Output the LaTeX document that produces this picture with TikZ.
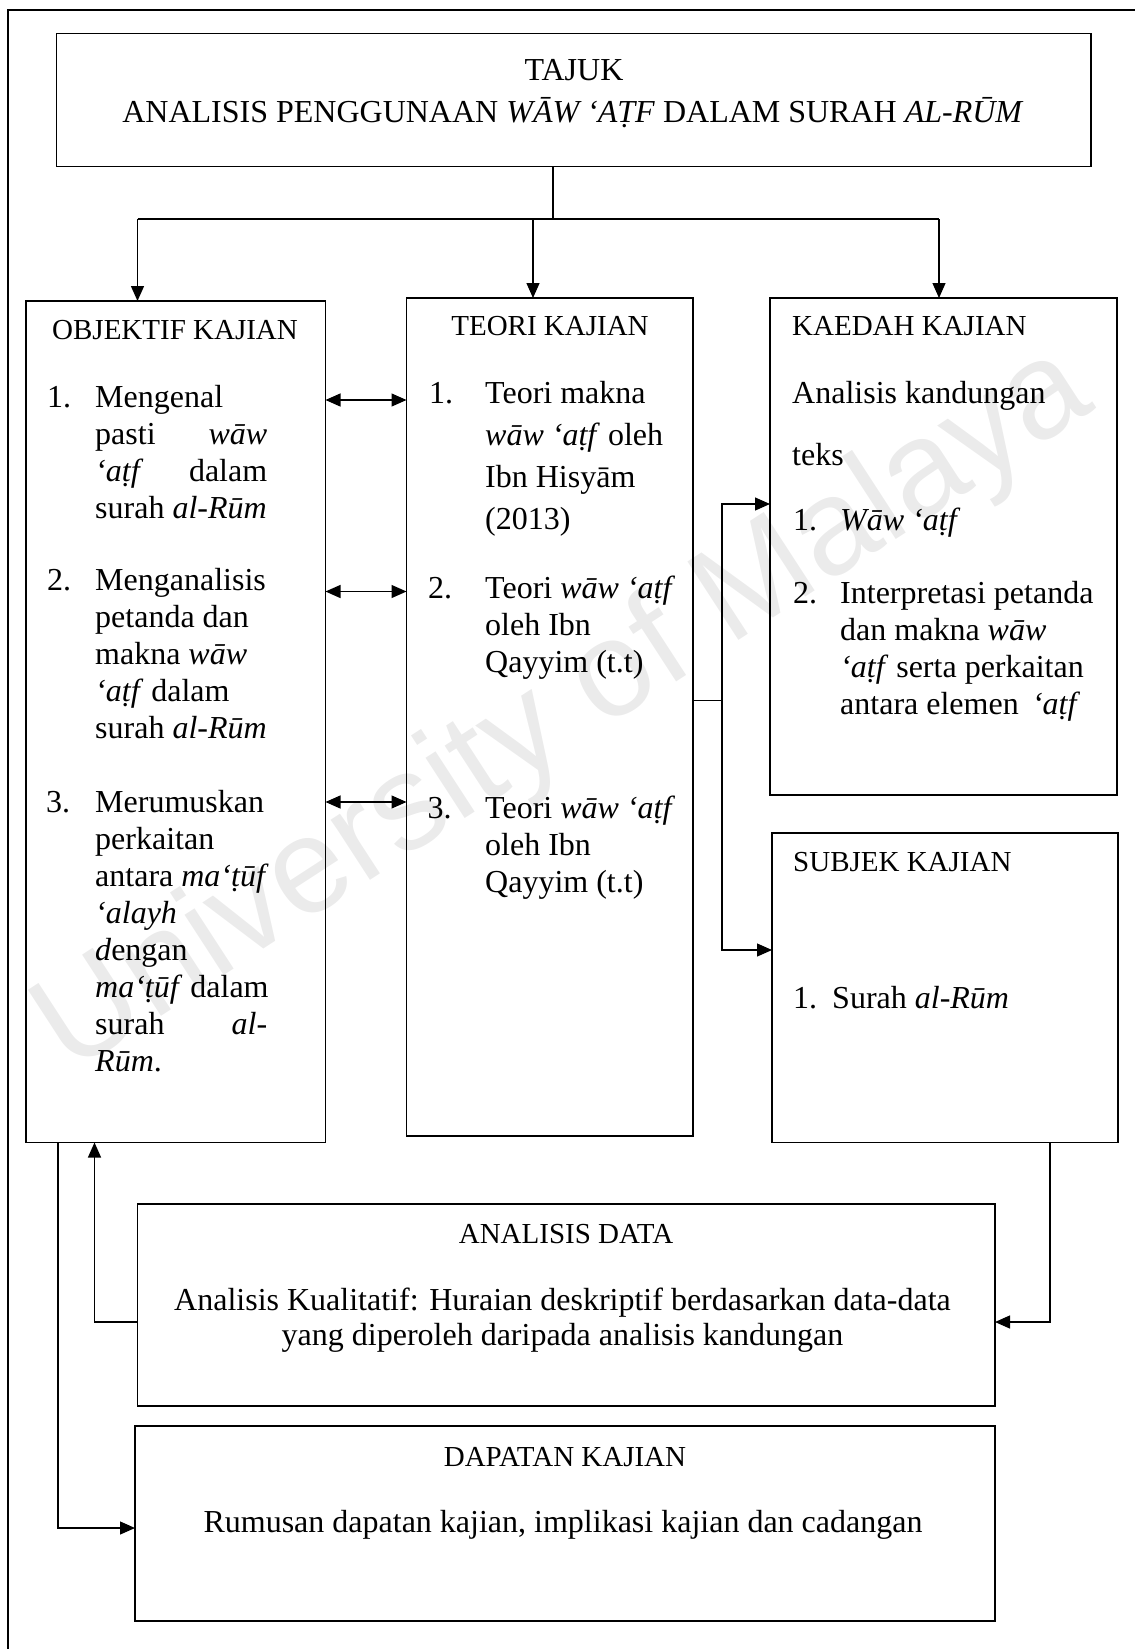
\documentclass[tikz,border=0pt]{standalone}
\usepackage{fontspec}
\setmainfont{Liberation Serif}
\newfontfamily\wmfont{Liberation Sans}
\usetikzlibrary{arrows.meta}
\newcommand\blk[2]{\parbox[t]{300pt}{\fontsize{32}{#1}\selectfont\raggedright #2\par}}
\newcommand\jl[1]{\makebox[172pt][s]{#1}}
\begin{document}
\begin{tikzpicture}[x=1pt,y=-1pt,
  box/.style={draw, line width=1.6pt, inner sep=0pt, outer sep=0pt, anchor=north west},
  frame/.style={line width=2pt},
  conn/.style={line width=1.3pt},
  arr/.style={conn, -{Triangle[length=15pt,width=13pt]}},
  darr/.style={conn, {Triangle[length=15pt,width=13pt]}-{Triangle[length=15pt,width=13pt]}},
  hd/.style={font=\fontsize{29}{35}\selectfont, inner sep=0pt, anchor=base west},
  tx/.style={font=\fontsize{32}{37}\selectfont, inner sep=0pt, anchor=base west},
  wm/.style={font=\wmfont\fontsize{136}{136}\selectfont, text=black!8, inner sep=0pt, rotate=33}
]
\useasboundingbox (0,0) rectangle (1135,1649);
% watermark
\node[wm] (wmark) at (565,712) {University of Malaya};
% outer frame (top and left edges)
\coordinate (f0) at (7.5,10);
\coordinate (f1) at (1135,10);
\coordinate (f2) at (7.5,1649);
\draw[frame] (f1) -- (f0) -- (f2);
% boxes
\node[box, minimum width=1034.5pt, minimum height=133pt] (title) at (56.5,33.5) {};
\node[box, minimum width=299.5pt, minimum height=841.5pt] (obj) at (26,301) {};
\node[box, minimum width=286.5pt, minimum height=838pt] (teo) at (406.5,298) {};
\node[box, minimum width=347pt, minimum height=497pt] (kae) at (770,298) {};
\node[box, minimum width=346pt, minimum height=309.5pt] (sub) at (772,833) {};
\node[box, minimum width=857.5pt, minimum height=202pt] (ana) at (137.5,1204) {};
\node[box, minimum width=860pt, minimum height=195pt] (dap) at (135,1426) {};
% title texts
\node[font=\fontsize{32}{42}\selectfont, inner sep=0pt, anchor=base] (tt1) at (574,80) {TAJUK};
\node[font=\fontsize{32}{42}\selectfont, inner sep=0pt, anchor=base] (tt2) at (573,122) {ANALISIS PENGGUNAAN \textit{WĀW ‘AṬF} DALAM SURAH \textit{AL-RŪM}};
% headings
\node[hd] (oh) at (52,339) {OBJEKTIF KAJIAN};
\node[hd, anchor=base] (th) at (550,335) {TEORI KAJIAN};
\node[hd] (kh) at (792,335) {KAEDAH KAJIAN};
\node[hd] (sh) at (793,871) {SUBJEK KAJIAN};
\node[hd, anchor=base] (ah) at (566,1243) {ANALISIS DATA};
\node[hd, anchor=base] (dh) at (565,1466) {DAPATAN KAJIAN};
% objektif items
\node[tx] (on1) at (47,407) {1.};
\node[tx] (o1) at (95,407) {\blk{37}{Mengenal\\ \jl{pasti \textit{wāw}}\\ \jl{\textit{‘aṭf} dalam}\\ surah \textit{al-Rūm}}};
\node[tx] (on2) at (47,590) {2.};
\node[tx] (o2) at (95,590) {\blk{37}{Menganalisis\\ petanda dan\\ makna \textit{wāw}\\ \textit{‘aṭf} dalam\\ surah \textit{al-Rūm}}};
\node[tx] (on3) at (46,812) {3.};
\node[tx] (o3) at (95,812) {\blk{37}{Merumuskan\\ perkaitan\\ antara \textit{ma‘ṭūf}\\ \textit{‘alayh}\\ \textit{d}engan\\ \textit{ma‘ṭūf} dalam\\ \jl{surah \textit{al-}}\\ \textit{Rūm}.}};
% teori items
\node[tx] (tn1) at (429,403) {1.};
\node[tx] (t1) at (485,403) {\blk{42}{Teori makna\\ \textit{wāw ‘aṭf} oleh\\ Ibn Hisyām\\ (2013)}};
\node[tx] (tn2) at (428,598) {2.};
\node[tx] (t2) at (485,598) {\blk{37}{Teori \textit{wāw ‘aṭf}\\ oleh Ibn\\ Qayyim (t.t)}};
\node[tx] (tn3) at (427.5,818) {3.};
\node[tx] (t3) at (485,818) {\blk{37}{Teori \textit{wāw ‘aṭf}\\ oleh Ibn\\ Qayyim (t.t)}};
% kaedah
\node[tx] (k0) at (792,403) {Analisis kandungan};
\node[tx] (k0b) at (792,465) {teks};
\node[tx] (kn1) at (793,530) {1.};
\node[tx] (k1) at (840,530) {\textit{Wāw ‘aṭf}};
\node[tx] (kn2) at (793,603) {2.};
\node[tx] (k2) at (840,603) {\blk{37}{Interpretasi petanda\\ dan makna \textit{wāw}\\ \textit{‘aṭf} serta perkaitan\\ antara elemen \,\textit{‘aṭf}}};
% subjek
\node[tx] (sn1) at (793,1008) {1.};
\node[tx] (s1) at (832,1008) {Surah \textit{al-Rūm}};
% analisis data
\node[tx, anchor=base] (a1) at (562.5,1310) {Analisis Kualitatif: Huraian deskriptif berdasarkan data-data};
\node[tx, anchor=base] (a2) at (562.5,1345) {yang diperoleh daripada analisis kandungan};
% dapatan
\node[tx, anchor=base] (r1) at (563,1532) {Rumusan dapatan kajian, implikasi kajian dan cadangan};
% connectors from title
\coordinate (j) at (553,219);
\coordinate (hl) at (137.5,219);
\coordinate (hm) at (533,219);
\coordinate (hr) at (939,219);
\draw[conn] (title.south -| j) -- (j);
\draw[conn] (hl) -- (hr);
\draw[arr] (hl) -- (hl |- obj.north);
\draw[arr] (hm) -- (hm |- teo.north);
\draw[arr] (hr) -- (hr |- kae.north);
% double arrows objektif <-> teori
\coordinate (d1) at (0,400);
\coordinate (d2) at (0,591.5);
\coordinate (d3) at (0,802);
\draw[darr] (obj.east |- d1) -- (teo.west |- d1);
\draw[darr] (obj.east |- d2) -- (teo.west |- d2);
\draw[darr] (obj.east |- d3) -- (teo.west |- d3);
% teori -> kaedah, subjek
\coordinate (v1) at (722,700.5);
\coordinate (vt) at (722,504);
\coordinate (vb) at (722,950);
\draw[conn] (teo.east |- v1) -- (v1);
\draw[arr] (v1) |- (kae.west |- vt);
\draw[arr] (v1) |- (sub.west |- vb);
% subjek -> analisis
\coordinate (s) at (1050,1322);
\draw[arr] (sub.south -| s) |- (ana.east |- s);
% analisis -> objektif
\coordinate (a) at (94.5,1322);
\draw[arr] (ana.west |- a) -| (a |- obj.south);
% objektif -> dapatan
\coordinate (b) at (58,1528);
\draw[arr] (obj.south -| b) |- (dap.west |- b);
\end{tikzpicture}
\end{document}
